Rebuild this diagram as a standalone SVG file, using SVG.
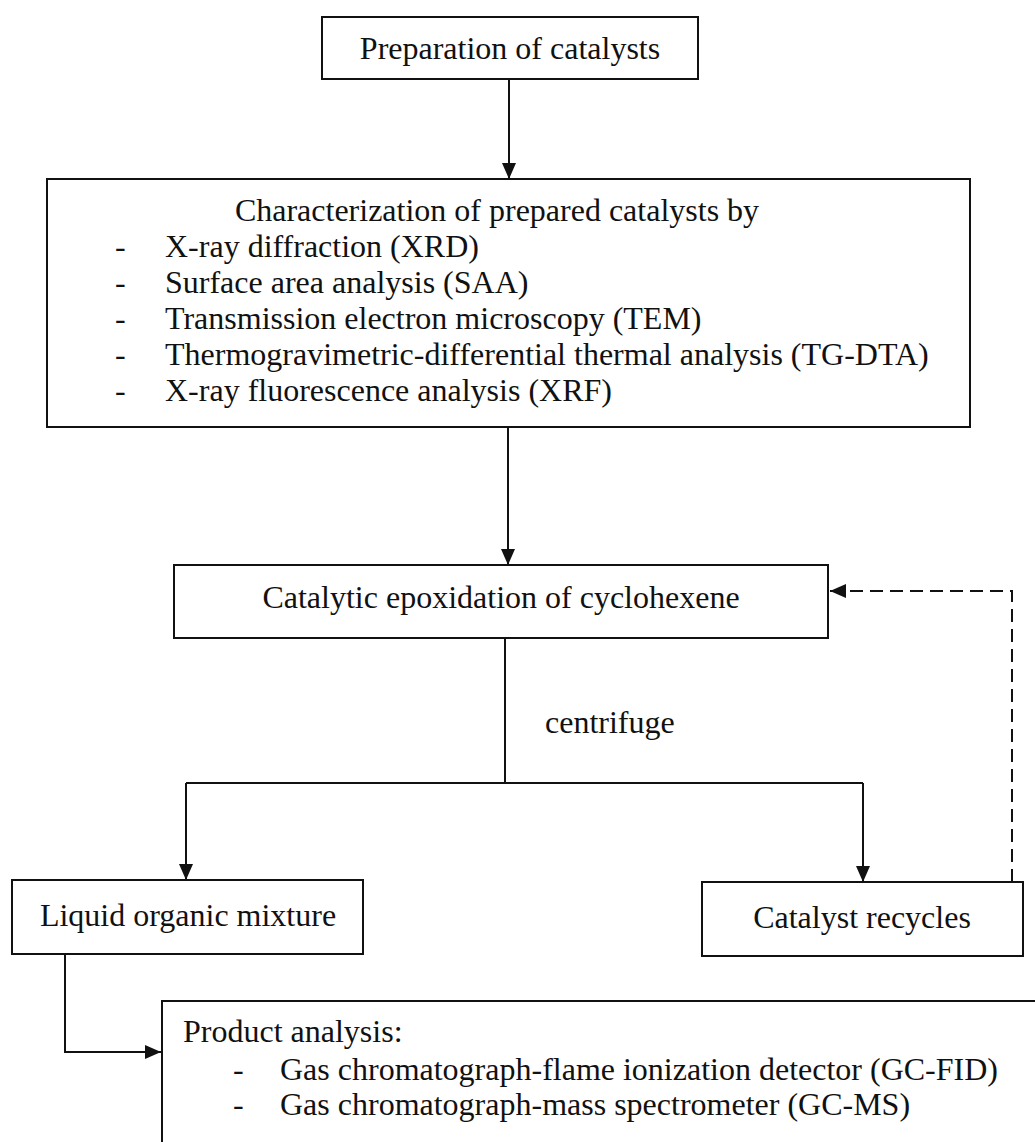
<svg xmlns="http://www.w3.org/2000/svg" width="1035" height="1142" viewBox="0 0 1035 1142">
<style>
.box{fill:#fff;stroke:#111;stroke-width:2}
.t{font-family:"Liberation Serif","Times New Roman",serif;font-size:32px;fill:#111}
.c{stroke:#111;stroke-width:2;fill:none}
.d{stroke:#111;stroke-width:2;fill:none;stroke-dasharray:13 7}
</style>
<defs>
<marker id="ah" markerUnits="userSpaceOnUse" markerWidth="16" markerHeight="14" refX="16" refY="7" orient="auto">
<path d="M0,0 L16,7 L0,14 Z" fill="#111"/>
</marker>
</defs>
<rect width="1035" height="1142" fill="#fff"/>
<g id="connectors">
<line class="c" x1="509" y1="79" x2="509" y2="179" marker-end="url(#ah)"/>
<line class="c" x1="508" y1="427" x2="508" y2="565" marker-end="url(#ah)"/>
<polyline class="c" points="505,638 505,783"/>
<polyline class="c" points="186,783 863,783"/>
<polyline class="c" points="186,783 186,880" marker-end="url(#ah)"/>
<polyline class="c" points="863,783 863,882" marker-end="url(#ah)"/>
<polyline class="d" points="1012,882 1012,591 830,591" marker-end="url(#ah)"/>
<polyline class="c" points="65,954 65,1052 161,1052" marker-end="url(#ah)"/>
<text class="t" x="545" y="733">centrifuge</text>
</g>
<g id="prep">
<rect class="box" x="322" y="17" width="376" height="62"/>
<text class="t" x="510" y="59" text-anchor="middle">Preparation of catalysts</text>
</g>
<g id="charac">
<rect class="box" x="47" y="179" width="923" height="248"/>
<text class="t" x="497" y="221" text-anchor="middle">Characterization of prepared catalysts by</text>
<text class="t" x="115" y="257">-</text><text class="t" x="165" y="257">X-ray diffraction (XRD)</text>
<text class="t" x="115" y="293">-</text><text class="t" x="165" y="293">Surface area analysis (SAA)</text>
<text class="t" x="115" y="329">-</text><text class="t" x="165" y="329">Transmission electron microscopy (TEM)</text>
<text class="t" x="115" y="365">-</text><text class="t" x="165" y="365">Thermogravimetric-differential thermal analysis (TG-DTA)</text>
<text class="t" x="115" y="401">-</text><text class="t" x="165" y="401">X-ray fluorescence analysis (XRF)</text>
</g>
<g id="epox">
<rect class="box" x="174" y="565" width="654" height="73"/>
<text class="t" x="501" y="608" text-anchor="middle">Catalytic epoxidation of cyclohexene</text>
</g>
<g id="liquid">
<rect class="box" x="12" y="880" width="351" height="74"/>
<text class="t" x="188" y="926" text-anchor="middle">Liquid organic mixture</text>
</g>
<g id="recycle">
<rect class="box" x="702" y="882" width="321" height="74"/>
<text class="t" x="862" y="928" text-anchor="middle">Catalyst recycles</text>
</g>
<g id="product">
<rect class="box" x="162" y="1001" width="900" height="200"/>
<text class="t" x="183" y="1042">Product analysis:</text>
<text class="t" x="233" y="1080">-</text><text class="t" x="280" y="1080">Gas chromatograph-flame ionization detector (GC-FID)</text>
<text class="t" x="233" y="1115">-</text><text class="t" x="280" y="1115">Gas chromatograph-mass spectrometer (GC-MS)</text>
</g>
</svg>
